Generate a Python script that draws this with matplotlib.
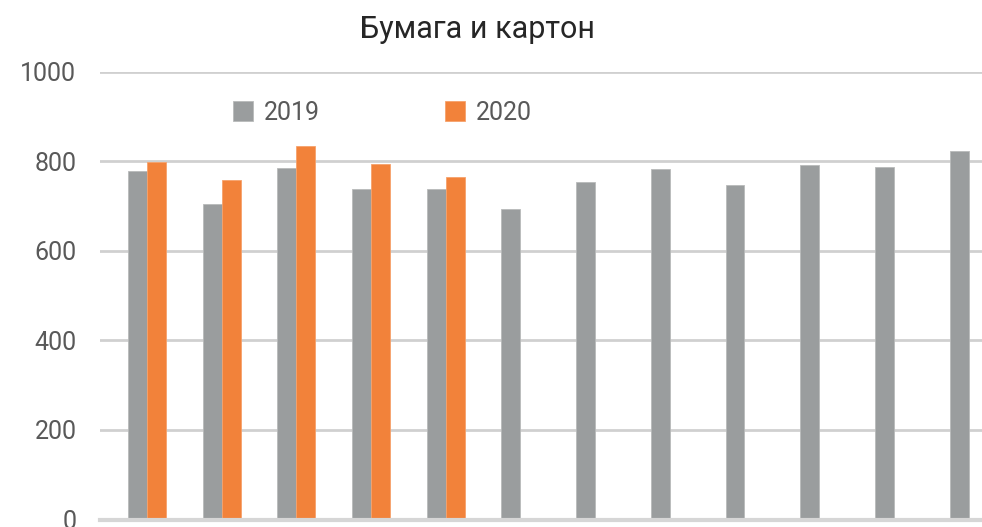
import numpy as np
import matplotlib.pyplot as plt

plt.rcParams['font.family'] = ['Roboto', 'DejaVu Sans']

months = np.arange(12)
y2019 = [778, 704, 784, 738, 737, 693, 753, 782, 747, 791, 786, 822]
y2020 = [797, 758, 834, 793, 764]
yticks = [0, 200, 400, 600, 800, 1000]

gray = '#9a9d9e'
orange = '#f2823a'
text_c = '#595959'

fig = plt.figure(figsize=(9.82, 5.27), dpi=100)
ax = fig.add_axes([100 / 982, 7.5 / 527, 882 / 982, 448 / 527])

w = 0.254
ax.bar(months - w / 2, y2019, width=w, color=gray, edgecolor='#b8baba',
       linewidth=0.6, label='2019', zorder=3)
ax.bar(months[:len(y2020)] + w / 2, y2020, width=w, color=orange,
       edgecolor='#f6a26c', linewidth=0.6, label='2020', zorder=3)

ax.set_xlim(-0.629, 11.18)
ax.set_ylim(0, 1000)
ax.set_yticks(yticks)
ax.set_xticks([])
ax.tick_params(axis='y', length=0, pad=17, labelsize=18, labelcolor=text_c)
ax.yaxis.grid(True, color='#d0d0d0', linewidth=2, zorder=0)
ax.set_axisbelow(True)
for s in ax.spines.values():
    s.set_visible(False)
ax.axhline(0, color='#d6d6d6', linewidth=3, zorder=4, clip_on=False)

leg = ax.legend(loc='upper left', bbox_to_anchor=(0.125, 0.985), ncol=2,
                frameon=False, fontsize=18, handlelength=0.8, handleheight=0.8,
                handletextpad=0.45, columnspacing=5.0, labelcolor=text_c)

fig.text(477 / 982, 1 - 29 / 527, 'Бумага и картон', ha='center', va='center',
         fontsize=22, color='#262626')

fig.savefig('out.png', dpi=100)
